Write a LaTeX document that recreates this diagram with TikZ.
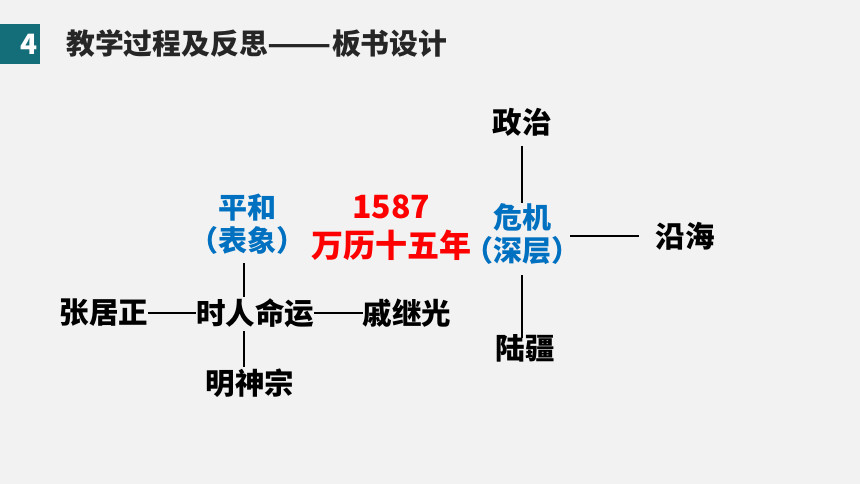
\documentclass[tikz,border=0pt]{standalone}
\usepackage{fontspec}
\usepackage{xcolor}
\usepackage{tikz}
\usetikzlibrary{positioning}
\newfontfamily\cjk{Noto Sans CJK SC}
\definecolor{teal4}{HTML}{146E7A}
\definecolor{bgray}{HTML}{F2F2F2}
\definecolor{tblue}{HTML}{0070C0}
\definecolor{tdark}{HTML}{262626}
\tikzstyle{word} = [inner sep=0pt, font=\cjk\bfseries\fontsize{29.5}{34}\selectfont]
\tikzstyle{keyword} = [word, text=tblue, align=center, font=\cjk\bfseries\fontsize{29}{33}\selectfont]
\tikzstyle{conn} = [line width=2.2pt]

\begin{document}
\begin{tikzpicture}[x=1pt,y=-1pt]
	% Background and title bar:
	\fill[bgray] (0,0) rectangle (860,484);
	\useasboundingbox (0,0) rectangle (860,484);
	\fill[teal4] (0,24) rectangle (40,64);
	\node[word, text=white, font=\cjk\bfseries\fontsize{28}{32}\selectfont] (num) at (29,44) {4};
	\node[word, text=tdark, anchor=west, font=\cjk\bfseries\fontsize{28.8}{32}\selectfont] (title) at (66,44) {教学过程及反思\scalebox{1.3}[1]{——}板书设计};

	% Left part: people around the theme
	\node[word] (fate) at (255,313) {时人命运};
	\node[word] (zhang) at (104,313) {张居正};
	\node[word] (qi) at (407,313) {戚继光};
	\node[word] (ming) at (250,383) {明神宗};
	\node[keyword] (peace) at (247,224) {平和\\（表象）};
	\draw[conn] (zhang.east) -- (fate.west);
	\draw[conn] (fate.east) -- (qi.west);
	\draw[conn] (244,263) -- (244,297);
	\draw[conn] (244,331) -- (244,367);

	% Middle: the year
	\node[inner sep=0pt, text=red, align=center, font=\cjk\bfseries\fontsize{32}{39}\selectfont] (year) at (391,228) {1587\\万历十五年};

	% Right part: crisis and its branches
	\node[keyword] (crisis) at (522,234) {危机\\（深层）};
	\node[word] (pol) at (522,122) {政治};
	\node[word] (sea) at (685,236) {沿海};
	\node[word] (land) at (525,348) {陆疆};
	\draw[conn] (pol.south) ++(0,10) -- (522,203);
	\draw[conn] (522,275) -- ([yshift=-4pt]land.north -| 522,0);
	\draw[conn] (570,236) -- ([xshift=-16pt]sea.west);
	\end{tikzpicture}
\end{document}
